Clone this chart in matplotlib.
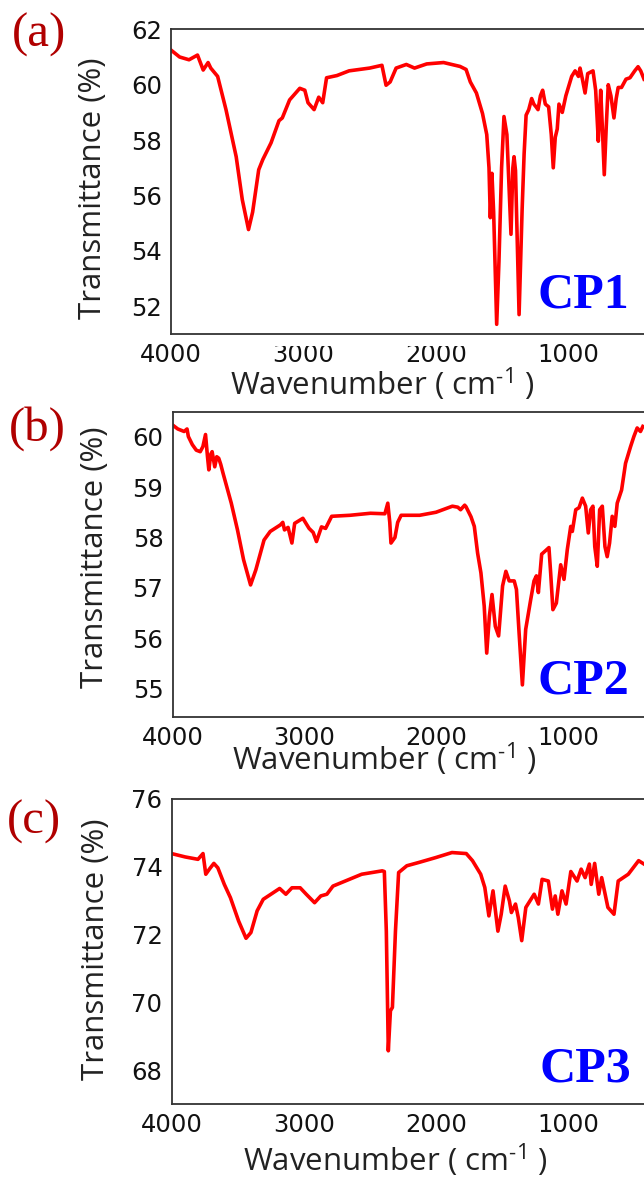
import matplotlib
matplotlib.use("Agg")
import matplotlib.pyplot as plt
from matplotlib.patches import Rectangle

# ---- data (wavenumber cm-1, transmittance %) ----
wn_cp1 = [4000, 3935, 3864, 3800, 3757, 3720, 3700, 3648, 3585, 3508, 3462, 3415,
          3384, 3338, 3307, 3245, 3185, 3160, 3105, 3028, 2990, 2966, 2920, 2885,
          2855, 2826, 2748, 2656, 2501, 2408, 2377, 2346, 2301, 2224, 2162, 2070,
          1943, 1819, 1773, 1741, 1695, 1649, 1617, 1600, 1590, 1578, 1565, 1542,
          1525, 1505, 1487, 1465, 1434, 1420, 1411, 1400, 1373, 1350, 1335, 1320,
          1300, 1278, 1262, 1245, 1230, 1212, 1195, 1175, 1150, 1130, 1115, 1100,
          1085, 1072, 1047, 1020, 976, 950, 925, 913, 895, 875, 855, 815, 795, 775,
          765, 757, 745, 730, 715, 700, 680, 657, 640, 625, 600, 566, 536, 500, 475,
          455, 430]
tr_cp1 = [61.25, 61.0, 60.9, 61.07, 60.53, 60.8, 60.6, 60.3, 59.1, 57.4, 55.85, 54.77,
          55.4, 56.93, 57.3, 57.9, 58.7, 58.8, 59.45, 59.87, 59.8, 59.35, 59.1, 59.55,
          59.35, 60.25, 60.33, 60.5, 60.6, 60.7, 59.98, 60.1, 60.6, 60.73, 60.6, 60.75,
          60.8, 60.66, 60.55, 60.1, 59.7, 58.96, 58.2, 57.0, 55.2, 56.8, 55.4, 51.35,
          53.6, 57.0, 58.85, 58.2, 54.6, 57.0, 57.4, 56.9, 51.7, 55.5, 57.5, 58.9,
          59.1, 59.5, 59.3, 59.2, 59.1, 59.6, 59.8, 59.3, 59.2, 58.2, 57.0, 58.1,
          58.4, 59.3, 59.0, 59.6, 60.3, 60.5, 60.3, 60.6, 60.2, 59.7, 60.4, 60.5, 59.8, 57.96,
          59.0, 59.8, 58.5, 56.75, 58.5, 60.0, 59.6, 58.8, 59.5, 59.9, 59.9, 60.2, 60.25, 60.5, 60.65,
          60.5, 60.2]

wn_cp2 = [4000, 3960, 3912, 3890, 3880, 3850, 3820, 3790, 3770, 3750, 3735, 3725,
          3710, 3700, 3680, 3665, 3650, 3635, 3617, 3555, 3508, 3462, 3409, 3369,
          3307, 3260, 3183, 3165, 3152, 3125, 3096, 3075, 3013, 2966, 2935, 2910,
          2872, 2841, 2795, 2656, 2501, 2392, 2370, 2355, 2346, 2316, 2295, 2269,
          2129, 2005, 1881, 1840, 1819, 1788, 1778, 1740, 1715, 1690, 1665, 1640,
          1621, 1601, 1581, 1556, 1531, 1501, 1476, 1451, 1413, 1396, 1376, 1351,
          1326, 1288, 1263, 1245, 1230, 1205, 1175, 1150, 1137, 1120, 1094, 1061,
          1036, 1011, 985, 973, 947, 922, 897, 872, 852, 834, 817, 803, 784, 766,
          746, 726, 709, 691, 671, 651, 633, 600, 570, 532, 507, 482, 457, 439]
tr_cp2 = [60.23, 60.15, 60.1, 60.15, 60.0, 59.84, 59.73, 59.7, 59.8, 60.04, 59.6, 59.34,
          59.65, 59.7, 59.4, 59.6, 59.57, 59.45, 59.27, 58.68, 58.15, 57.56, 57.06, 57.36,
          57.95, 58.12, 58.25, 58.3, 58.15, 58.2, 57.89, 58.28, 58.38, 58.18, 58.1, 57.92,
          58.21, 58.18, 58.42, 58.44, 58.48, 58.47, 58.68, 58.3, 57.89, 58.0, 58.3, 58.44,
          58.44, 58.5, 58.62, 58.6, 58.55, 58.64, 58.61, 58.41, 58.22, 57.69, 57.3, 56.64,
          55.71, 56.44, 56.87, 56.24, 56.05, 57.04, 57.33, 57.14, 57.14, 56.97, 56.11, 55.08,
          56.18, 56.77, 57.14, 57.24, 56.91, 57.67, 57.74, 57.8, 57.3, 56.57, 56.7, 57.46,
          57.17, 57.76, 58.22, 58.12, 58.55, 58.59, 58.78, 58.62, 58.09, 58.55, 58.62, 57.82, 57.43, 58.55,
          58.62, 57.82, 57.62, 57.89, 58.42, 58.22, 58.68, 58.94, 59.47, 59.8, 60.0, 60.17, 60.1, 60.2]

wn_cp3 = [4000, 3896, 3800, 3762, 3741, 3710, 3680, 3650, 3601, 3555, 3493, 3437,
          3400, 3353, 3307, 3245, 3183, 3136, 3090, 3028, 2982, 2919, 2872, 2826,
          2780, 2656, 2563, 2408, 2392, 2377, 2362, 2346, 2331, 2308, 2284, 2222,
          2129, 2005, 1881, 1773, 1726, 1664, 1633, 1602, 1571, 1534, 1509, 1479,
          1447, 1432, 1401, 1380, 1354, 1323, 1260, 1228, 1200, 1153, 1122, 1101,
          1081, 1050, 1019, 983, 936, 905, 875, 843, 829, 803, 772, 750, 703, 657,
          625, 549, 471, 430]
tr_cp3 = [74.39, 74.29, 74.22, 74.39, 73.78, 73.95, 74.1, 73.97, 73.48, 73.09, 72.4, 71.89,
          72.06, 72.7, 73.04, 73.2, 73.36, 73.19, 73.38, 73.38, 73.19, 72.94, 73.14, 73.19,
          73.43, 73.63, 73.78, 73.88, 73.86, 72.1, 68.57, 69.75, 69.85, 72.1, 73.83, 74.03,
          74.13, 74.27, 74.42, 74.39, 74.18, 73.78, 73.39, 72.55, 73.29, 72.1, 72.6, 73.43,
          72.99, 72.65, 72.9, 72.5, 71.82, 72.8, 73.19, 72.9, 73.63, 73.58, 72.75, 73.14,
          72.6, 73.29, 72.9, 73.86, 73.58, 73.93, 73.68, 74.08, 73.48, 74.1, 73.19, 73.68, 72.8, 72.6,
          73.58, 73.78, 74.18, 74.08]

panel_tags = ["(a)", "(b)", "(c)"]
sample_names = ["CP1", "CP2", "CP3"]
y_limits = [(51, 62), (54.45, 60.48), (67, 76)]
y_ticks = [[52, 54, 56, 58, 60, 62], [55, 56, 57, 58, 59, 60], [68, 70, 72, 74, 76]]
x_ticks = [4000, 3000, 2000, 1000]

W, H = 644, 1182
fig = plt.figure(figsize=(W / 100, H / 100), dpi=100)
plt.rcParams['mathtext.fontset'] = 'custom'
plt.rcParams['mathtext.rm'] = 'Open Sans'

# axes boxes in pixels: left, top, bottom (right runs just past the image edge)
boxes = [(171, 29.3, 334), (172.5, 412.3, 716.7), (171.5, 799, 1104)]
right_px = 648

series = [(wn_cp1, tr_cp1), (wn_cp2, tr_cp2), (wn_cp3, tr_cp3)]
xlab_pos = [(0.442, -0.200), (0.445, -0.175), (0.469, -0.220)]
ylab_pos = [(93, 188), (95, 557), (96, 949)]
tag_pos = [(12, 47), (9, 441), (7, 834)]
name_pos = [(583, 308), (583, 693), (585, 1082)]

for i, (left, top, bottom) in enumerate(boxes):
    ax = fig.add_axes([left / W, 1 - bottom / H, (right_px - left) / W, (bottom - top) / H])
    wn, tr = series[i]
    ax.plot(wn, tr, color='#ff0000', lw=2.6, solid_joinstyle='round')
    ax.set_xlim(4000, 400)
    ax.set_ylim(*y_limits[i])
    ax.set_xticks(x_ticks)
    ax.set_yticks(y_ticks[i])
    ax.tick_params(length=0, pad=6.5, labelsize=17.5, colors='#111111')
    for s in ax.spines.values():
        s.set_color('#333333')
        s.set_linewidth(1.3)
    ax.spines['right'].set_visible(False)

    ax.text(xlab_pos[i][0], xlab_pos[i][1], 'Wavenumber ( cm$^{\\mathregular{\u2010}1}$ )',
            transform=ax.transAxes, ha='center', va='baseline',
            fontsize=22.5, family='Open Sans', color='#222222')

    fig.text(ylab_pos[i][0] / W, 1 - ylab_pos[i][1] / H, 'Transmittance (%)',
             rotation=90, ha='center', va='center', fontsize=22.5,
             family='Open Sans', color='#222222')

    fig.text(tag_pos[i][0] / W, 1 - tag_pos[i][1] / H, panel_tags[i],
             ha='left', va='baseline', fontsize=35, family='Liberation Serif',
             color='#b00000')

    fig.text(name_pos[i][0] / W, 1 - name_pos[i][1] / H, sample_names[i],
             ha='center', va='baseline', fontsize=36, family='Liberation Serif',
             weight='bold', color='#0000ff')

# white strips that clip the top of some x tick labels, as in the reference
for y0, y1 in [(335.5, 346), (718, 727)]:
    fig.patches.append(Rectangle((228 / W, 1 - y1 / H), (540 - 228) / W, (y1 - y0) / H,
                                 transform=fig.transFigure, facecolor='white',
                                 edgecolor='none', zorder=5))

fig.savefig('out.png', dpi=100)
